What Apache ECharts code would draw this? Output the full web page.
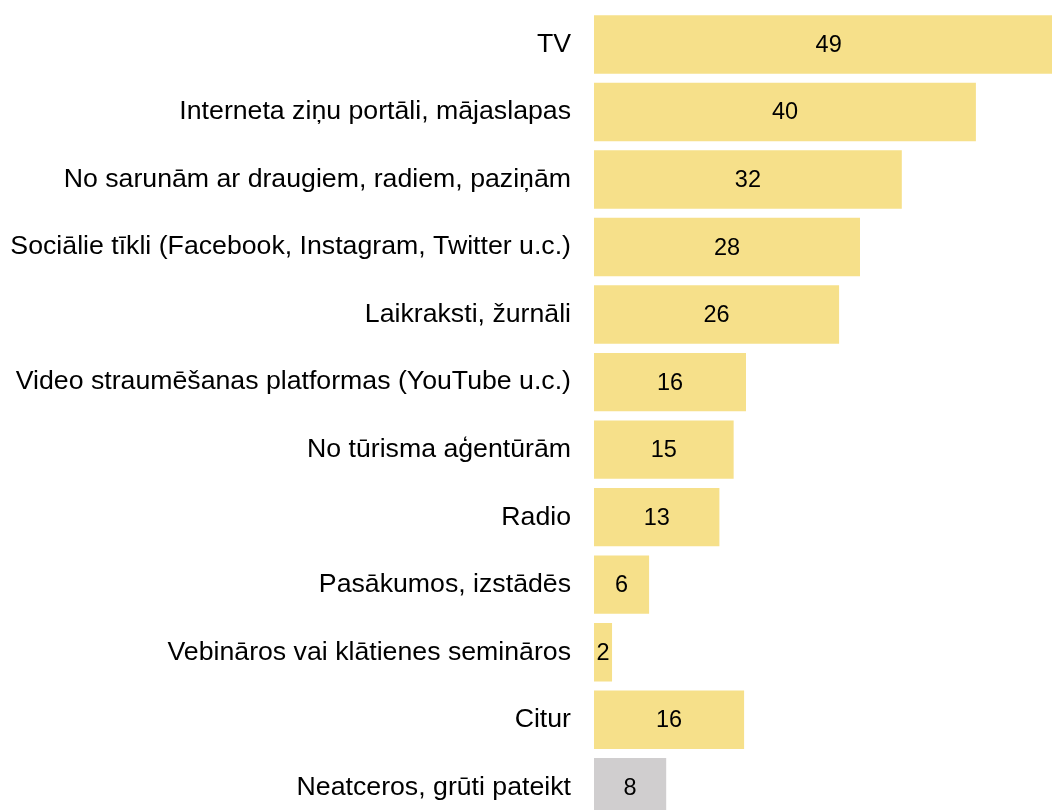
<!DOCTYPE html>
<html>
<head>
<meta charset="utf-8">
<script src="https://cdn.jsdelivr.net/npm/echarts@6/dist/echarts.min.js"></script>
<style>
html,body{margin:0;padding:0;background:#fff;}
#chart{width:1052px;height:810px;}
</style>
</head>
<body>
<div id="chart"></div>
<script>
const categories = [
  "TV",
  "Interneta ziņu portāli, mājaslapas",
  "No sarunām ar draugiem, radiem, paziņām",
  "Sociālie tīkli (Facebook, Instagram, Twitter u.c.)",
  "Laikraksti, žurnāli",
  "Video straumēšanas platformas (YouTube u.c.)",
  "No tūrisma aģentūrām",
  "Radio",
  "Pasākumos, izstādēs",
  "Vebināros vai klātienes semināros",
  "Citur",
  "Neatceros, grūti pateikt"
];
const values = [49.4, 40.2, 32.4, 28.0, 25.8, 16.0, 14.7, 13.2, 5.8, 1.9, 15.8, 7.6];
const barColors = ["#F6E08A","#F6E08A","#F6E08A","#F6E08A","#F6E08A","#F6E08A","#F6E08A","#F6E08A","#F6E08A","#F6E08A","#F6E08A","#D0CECF"];

const chart = echarts.init(document.getElementById('chart'), null, {renderer: 'canvas'});
chart.setOption({
  animation: false,
  backgroundColor: '#ffffff',
  grid: {left: 594, top: 10.7, width: 475, height: 810.3, containLabel: false, outerBoundsMode: 'none'},
  xAxis: {
    type: 'value', min: 0, max: 50,
    show: false
  },
  yAxis: {
    type: 'category', data: categories, inverse: true,
    axisLine: {show: false}, axisTick: {show: false}, splitLine: {show: false},
    axisLabel: {
      margin: 23, color: '#000000',
      fontFamily: 'Liberation Sans, Arial, sans-serif', fontSize: 26.7
    }
  },
  series: [{
    type: 'bar',
    data: values.map((v, i) => ({value: v, itemStyle: {color: barColors[i]}})),
    barCategoryGap: '13.5%',
    label: {
      show: true, position: 'inside', color: '#000000',
      fontFamily: 'Liberation Sans, Arial, sans-serif', fontSize: 23.5,
      offset: [0, 1],
      formatter: p => Math.round(p.value)
    }
  }]
});
</script>
</body>
</html>
